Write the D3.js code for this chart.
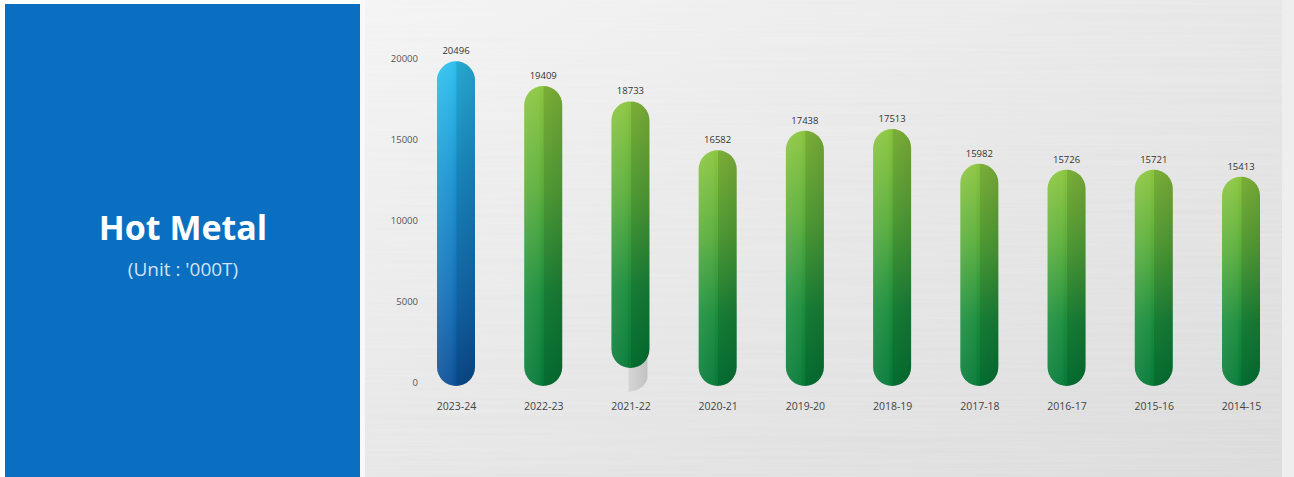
<!DOCTYPE html>
<html>
<head>
<meta charset="utf-8">
<script src="https://cdn.jsdelivr.net/npm/d3@7"></script>
<style>
  html, body { margin: 0; padding: 0; background: #ffffff; }
  svg { display: block; }
</style>
</head>
<body>
<svg id="chart" width="1294" height="477"></svg>
<script>
// ---- data ----
const categories = ["2023-24", "2022-23", "2021-22", "2020-21", "2019-20", "2018-19", "2017-18", "2016-17", "2015-16", "2014-15"];
const values = [20496, 19409, 18733, 16582, 17438, 17513, 15982, 15726, 15721, 15413];
const yTicks = [0, 5000, 10000, 15000, 20000];
const title = "Hot Metal";
const unitLabel = "(Unit : '000T)";

const W = 1294, H = 477;
const svg = d3.select("#chart");
const defs = svg.append("defs");

// brushed-metal background
const bgGrad = defs.append("linearGradient").attr("id", "bgGrad")
  .attr("x1", "0").attr("y1", "0").attr("x2", "1").attr("y2", "1");
bgGrad.append("stop").attr("offset", "0%").attr("stop-color", "#f3f3f3");
bgGrad.append("stop").attr("offset", "45%").attr("stop-color", "#e6e6e6");
bgGrad.append("stop").attr("offset", "100%").attr("stop-color", "#d8d8d8");

const brush = defs.append("filter").attr("id", "brush")
  .attr("x", 0).attr("y", 0).attr("width", 1).attr("height", 1);
brush.append("feTurbulence").attr("type", "fractalNoise")
  .attr("baseFrequency", "0.003 0.35").attr("numOctaves", 2).attr("seed", 3).attr("result", "noise");
brush.append("feColorMatrix").attr("in", "noise").attr("type", "matrix")
  .attr("values", "0 0 0 0 1  0 0 0 0 1  0 0 0 0 1  0 0 0 0.22 0").attr("result", "streaks");
brush.append("feComposite").attr("in", "streaks").attr("in2", "SourceGraphic").attr("operator", "in");

// bar gradients
function vGrad(id, stops) {
  const g = defs.append("linearGradient").attr("id", id)
    .attr("x1", "0").attr("y1", "0").attr("x2", "0").attr("y2", "1");
  stops.forEach(s => g.append("stop").attr("offset", s[0]).attr("stop-color", s[1]));
}
vGrad("blueGrad", [["0%", "#2cc0ee"], ["35%", "#1b95d2"], ["75%", "#136db6"], ["100%", "#0a4f95"]]);
vGrad("greenGrad", [["0%", "#8cc63f"], ["35%", "#5aae3b"], ["70%", "#1a8d3c"], ["100%", "#057a37"]]);
const shade = defs.append("linearGradient").attr("id", "shade")
  .attr("x1", "0").attr("y1", "0").attr("x2", "1").attr("y2", "0");
[["0%", "#ffffff", 0.10], ["40%", "#ffffff", 0.04], ["50%", "#000000", 0.0], ["52%", "#000000", 0.12], ["100%", "#000000", 0.18]]
  .forEach(s => shade.append("stop").attr("offset", s[0]).attr("stop-color", s[1]).attr("stop-opacity", s[2]));
const greyGrad = defs.append("linearGradient").attr("id", "greyGrad")
  .attr("x1", "0").attr("y1", "0").attr("x2", "1").attr("y2", "0");
greyGrad.append("stop").attr("offset", "0%").attr("stop-color", "#d6d6d6");
greyGrad.append("stop").attr("offset", "100%").attr("stop-color", "#c2c2c2");

// background panels
svg.append("rect").attr("x", 360).attr("y", 0).attr("width", W - 360).attr("height", H).attr("fill", "url(#bgGrad)");
svg.append("rect").attr("x", 360).attr("y", 0).attr("width", W - 360).attr("height", H).attr("fill", "#fff").attr("filter", "url(#brush)");
svg.append("rect").attr("x", 360).attr("y", 0).attr("width", 5).attr("height", H).attr("fill", "#f8f8f8");
svg.append("rect").attr("x", W - 12).attr("y", 0).attr("width", 12).attr("height", H).attr("fill", "#eeeeee");
svg.append("rect").attr("x", 5).attr("y", 4).attr("width", 355).attr("height", H - 4).attr("fill", "#0a6fc1");

svg.append("text").attr("x", 183).attr("y", 240)
  .attr("text-anchor", "middle").attr("font-family", "'Open Sans', sans-serif")
  .attr("font-weight", 700).attr("font-size", 34).attr("fill", "#ffffff").text(title);
svg.append("text").attr("x", 183).attr("y", 276)
  .attr("text-anchor", "middle").attr("font-family", "'Open Sans', sans-serif")
  .attr("font-size", 19).attr("fill", "#d2e3f5").text(unitLabel);

// scales
const x = d3.scalePoint().domain(categories).range([456, 1241]);
const yAxisScale = d3.scaleLinear().domain([0, 20000]).range([382, 58]);
// the bars in the source graphic are drawn on their own (non-zero) scale
const yBar = d3.scaleLinear().domain([6200, 20600]).range([386, 59]);
const barW = 38;

// y axis labels
const yAxis = d3.axisLeft(yAxisScale).tickValues(yTicks).tickSize(0).tickPadding(0).tickFormat(d3.format("d"));
const gy = svg.append("g").attr("transform", "translate(418,0)").call(yAxis);
gy.select(".domain").remove();
gy.selectAll("text").attr("font-family", "'Open Sans', sans-serif").attr("font-size", 9.5).attr("fill", "#555").attr("dy", "0.35em");

// bars
const bars = svg.append("g");
categories.forEach((c, i) => {
  const cx = x(c);
  const top = yBar(values[i]);
  const lifted = c === "2021-22";
  const bottom = yBar.range()[0] - (lifted ? 18 : 0);
  const fill = i === 0 ? "url(#blueGrad)" : "url(#greenGrad)";
  if (lifted) {
    bars.append("path")
      .attr("d", `M${cx - 2} ${bottom - 20} L${cx + barW / 2 - 2} ${bottom - 20} L${cx + barW / 2 - 2} ${bottom + 10} Q${cx + barW / 2 - 5} ${bottom + 22} ${cx - 2} ${bottom + 24} Z`)
      .attr("fill", "url(#greyGrad)");
  }
  bars.append("rect").attr("x", cx - barW / 2).attr("y", top).attr("width", barW).attr("height", bottom - top)
    .attr("rx", barW / 2).attr("ry", barW / 2).attr("fill", fill);
  bars.append("rect").attr("x", cx - barW / 2).attr("y", top).attr("width", barW).attr("height", bottom - top)
    .attr("rx", barW / 2).attr("ry", barW / 2).attr("fill", "url(#shade)");
  bars.append("text").attr("x", cx).attr("y", top - 7).attr("text-anchor", "middle")
    .attr("font-family", "'Open Sans', sans-serif").attr("font-size", 9.5).attr("fill", "#333")
    .text(values[i]);
});

// x axis labels
const xAxis = d3.axisBottom(x).tickSize(0).tickPadding(0);
const gx = svg.append("g").attr("transform", "translate(0,403)").call(xAxis);
gx.select(".domain").remove();
gx.selectAll("text").attr("font-family", "'Open Sans', sans-serif").attr("font-size", 10.5).attr("fill", "#444").attr("dy", "0.71em");
</script>
</body>
</html>
